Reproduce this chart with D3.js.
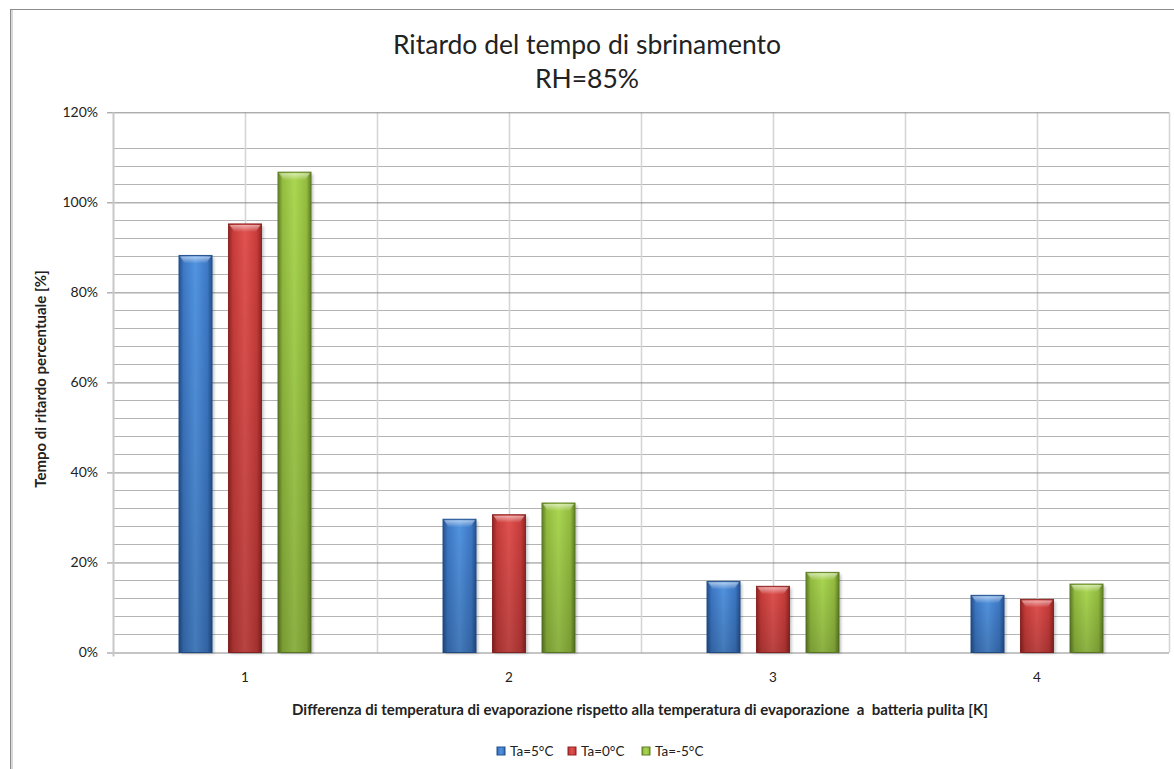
<!DOCTYPE html>
<html>
<head>
<meta charset="utf-8">
<script src="https://cdn.jsdelivr.net/npm/d3@7"></script>
<style>
	body { margin: 0; background: #fff; }
	svg text { font-family: Lato, "Open Sans", sans-serif; fill: #222; }
</style>
</head>
<body>
<div id="chart"></div>
<script>
// data
const categories = ['1', '2', '3', '4'];
const seriesNames = ['Ta=5°C', 'Ta=0°C', 'Ta=-5°C'];
const valuesT5 = [0.882, 0.296, 0.158, 0.127];
const valuesT0 = [0.952, 0.306, 0.147, 0.118];
const valuesTm5 = [1.067, 0.332, 0.178, 0.152];
const yTicks = [0, 0.2, 0.4, 0.6, 0.8, 1.0, 1.2];
const yMinorTicks = [0.04, 0.08, 0.12, 0.16, 0.24, 0.28, 0.32, 0.36, 0.44, 0.48, 0.52, 0.56,
	0.64, 0.68, 0.72, 0.76, 0.84, 0.88, 0.92, 0.96, 1.04, 1.08, 1.12];

const seriesValues = [valuesT5, valuesT0, valuesTm5];

// colours: [dark edge, mid, light centre]
const palette = [
	['#24528f', '#3d78c6', '#5294e0'],
	['#8f2624', '#c83c3a', '#e05250'],
	['#607f26', '#94bd3f', '#aad752']
];

const W = 1174;
const H = 769;

const $svg = d3.select('#chart').append('svg')
	.attr('width', W)
	.attr('height', H);

const defs = $svg.append('defs');
palette.forEach((c, i) => {
	const g = defs.append('linearGradient')
		.attr('id', `grad${i}`)
		.attr('x1', 0).attr('x2', 1).attr('y1', 0).attr('y2', 0);
	[[0, c[0]], [0.14, c[1]], [0.5, c[2]], [0.86, c[1]], [1, c[0]]].forEach(([o, col]) => {
		g.append('stop').attr('offset', o).attr('stop-color', col);
	});
	const gt = defs.append('linearGradient')
		.attr('id', `top${i}`)
		.attr('x1', 0).attr('x2', 0).attr('y1', 0).attr('y2', 1);
	gt.append('stop').attr('offset', 0).attr('stop-color', '#fff').attr('stop-opacity', 0.55);
	gt.append('stop').attr('offset', 1).attr('stop-color', '#fff').attr('stop-opacity', 0);
});
const shade = defs.append('linearGradient')
	.attr('id', 'shade')
	.attr('x1', 0).attr('x2', 0).attr('y1', 0).attr('y2', 1);
shade.append('stop').attr('offset', 0).attr('stop-color', '#000').attr('stop-opacity', 0);
shade.append('stop').attr('offset', 1).attr('stop-color', '#000').attr('stop-opacity', 0.18);
defs.append('filter').attr('id', 'blur')
	.append('feGaussianBlur').attr('stdDeviation', 1.5);

// outer chart border
$svg.append('rect')
	.attr('x', 10.5).attr('y', 9.5)
	.attr('width', W + 20).attr('height', H + 20)
	.attr('fill', 'none')
	.attr('stroke', '#8c8c8c');
$svg.append('line')
	.attr('x1', 12).attr('x2', 12).attr('y1', 10).attr('y2', H)
	.attr('stroke', '#d8d8d8').attr('stroke-width', 2);

// scales
const x0 = 113;
const x1 = 1169;
const scaleX = d3.scaleBand().domain(categories).range([x0, x1]).padding(0);
const scaleY = d3.scaleLinear().domain([0, 1.2]).range([652.5, 112.3]);
const scaleS = d3.scaleBand().domain(d3.range(seriesNames.length))
	.range([-66, 66]).paddingInner(0.333).paddingOuter(0);

// title
$svg.append('text')
	.attr('x', 587).attr('y', 54)
	.attr('text-anchor', 'middle')
	.style('font-size', '26.5px')
	.text('Ritardo del tempo di sbrinamento');
$svg.append('text')
	.attr('x', 587).attr('y', 88)
	.attr('text-anchor', 'middle')
	.style('font-size', '26.5px')
	.text('RH=85%');

const $g = $svg.append('g');

// minor horizontal grid
$g.selectAll('line.minor').data(yMinorTicks).enter().append('line')
	.attr('class', 'minor')
	.attr('x1', x0).attr('x2', x1)
	.attr('y1', d => Math.round(scaleY(d)) + 0.5)
	.attr('y2', d => Math.round(scaleY(d)) + 0.5)
	.attr('stroke', '#b4b4b4');

// vertical grid: category centres and boundaries
const vLines = categories.map(c => scaleX(c) + scaleX.bandwidth() / 2)
	.concat(categories.slice(1).map(c => scaleX(c)))
	.concat([x1]);
$g.selectAll('line.v').data(vLines).enter().append('line')
	.attr('class', 'v')
	.attr('x1', d => Math.round(d) + 0.5).attr('x2', d => Math.round(d) + 0.5)
	.attr('y1', scaleY(1.2)).attr('y2', scaleY(0))
	.attr('stroke', '#d4d4d4').attr('stroke-width', 1.5);

// y axis with major grid
const axisY = d3.axisLeft(scaleY)
	.tickValues(yTicks)
	.tickFormat(d3.format('.0%'))
	.tickSize(-(x1 - x0))
	.tickPadding(15);
const $axisY = $g.append('g')
	.attr('transform', `translate(${x0}, 0)`)
	.call(axisY);
$axisY.select('.domain').remove();
$axisY.selectAll('.tick line')
	.attr('stroke', '#8a8a8a')
	.attr('x1', -6)
	.attr('x2', x1 - x0);
$axisY.selectAll('.tick text')
	.style('font-size', '14px')
	.attr('fill', '#333');
$g.append('line')
	.attr('x1', x0 + 0.5).attr('x2', x0 + 0.5)
	.attr('y1', scaleY(1.2)).attr('y2', scaleY(0) + 4)
	.attr('stroke', '#c8c8c8').attr('stroke-width', 2);

// x axis labels
$g.selectAll('text.cat').data(categories).enter().append('text')
	.attr('class', 'cat')
	.attr('x', d => scaleX(d) + scaleX.bandwidth() / 2)
	.attr('y', 682)
	.attr('text-anchor', 'middle')
	.style('font-size', '13.5px')
	.attr('fill', '#333')
	.text(d => d);

// bars
const $vis = $g.append('g');
seriesValues.forEach((vals, si) => {
	const bw = scaleS.bandwidth();
	const $s = $vis.append('g');
	const bx = (d, i) => scaleX(categories[i]) + scaleX.bandwidth() / 2 + scaleS(si);
	// shadow
	$s.selectAll('rect.sh').data(vals).enter().append('rect')
		.attr('x', (d, i) => bx(d, i) + 2)
		.attr('y', d => scaleY(d) + 2)
		.attr('width', bw)
		.attr('height', d => scaleY(0) - scaleY(d) - 1)
		.attr('fill', '#000').attr('opacity', 0.25)
		.attr('filter', 'url(#blur)');
	$s.selectAll('rect.bar').data(vals).enter().append('rect')
		.attr('x', bx)
		.attr('y', d => scaleY(d))
		.attr('width', bw)
		.attr('height', d => scaleY(0) - scaleY(d))
		.attr('fill', `url(#grad${si})`)
		.attr('stroke', palette[si][0]).attr('stroke-width', 1);
	$s.selectAll('rect.dk').data(vals).enter().append('rect')
		.attr('x', bx)
		.attr('y', d => scaleY(d))
		.attr('width', bw)
		.attr('height', d => scaleY(0) - scaleY(d))
		.attr('fill', 'url(#shade)');
	// bevel highlight on top
	$s.selectAll('path.bev').data(vals).enter().append('path')
		.attr('d', (d, i) => {
			const x = bx(d, i);
			const y = scaleY(d);
			return `M${x + 1},${y + 1}L${x + bw - 1},${y + 1}L${x + bw - 6},${y + 8}L${x + 6},${y + 8}Z`;
		})
		.attr('fill', `url(#top${si})`);
});

// axis titles
$svg.append('text')
	.attr('transform', 'translate(46, 379) rotate(-90)')
	.attr('text-anchor', 'middle')
	.style('font-size', '15px')
	.style('font-weight', 'bold')
	.text('Tempo di ritardo percentuale [%]');
$svg.append('text')
	.attr('x', 640).attr('y', 715)
	.attr('text-anchor', 'middle')
	.style('font-size', '15px')
	.style('font-weight', 'bold')
	.attr('xml:space', 'preserve')
	.text('Differenza di temperatura di evaporazione rispetto alla temperatura di evaporazione  a  batteria pulita [K]');

// legend
const legendX = [497, 568, 642];
const $legend = $svg.append('g');
seriesNames.forEach((name, i) => {
	const $item = $legend.append('g').attr('transform', `translate(${legendX[i]}, 747)`);
	$item.append('rect')
		.attr('width', 8).attr('height', 8)
		.attr('fill', `url(#grad${i})`)
		.attr('stroke', palette[i][0]);
	$item.append('text')
		.attr('x', 13).attr('y', 9)
		.style('font-size', '13.5px')
		.attr('fill', '#333')
		.text(name);
});
</script>
</body>
</html>
